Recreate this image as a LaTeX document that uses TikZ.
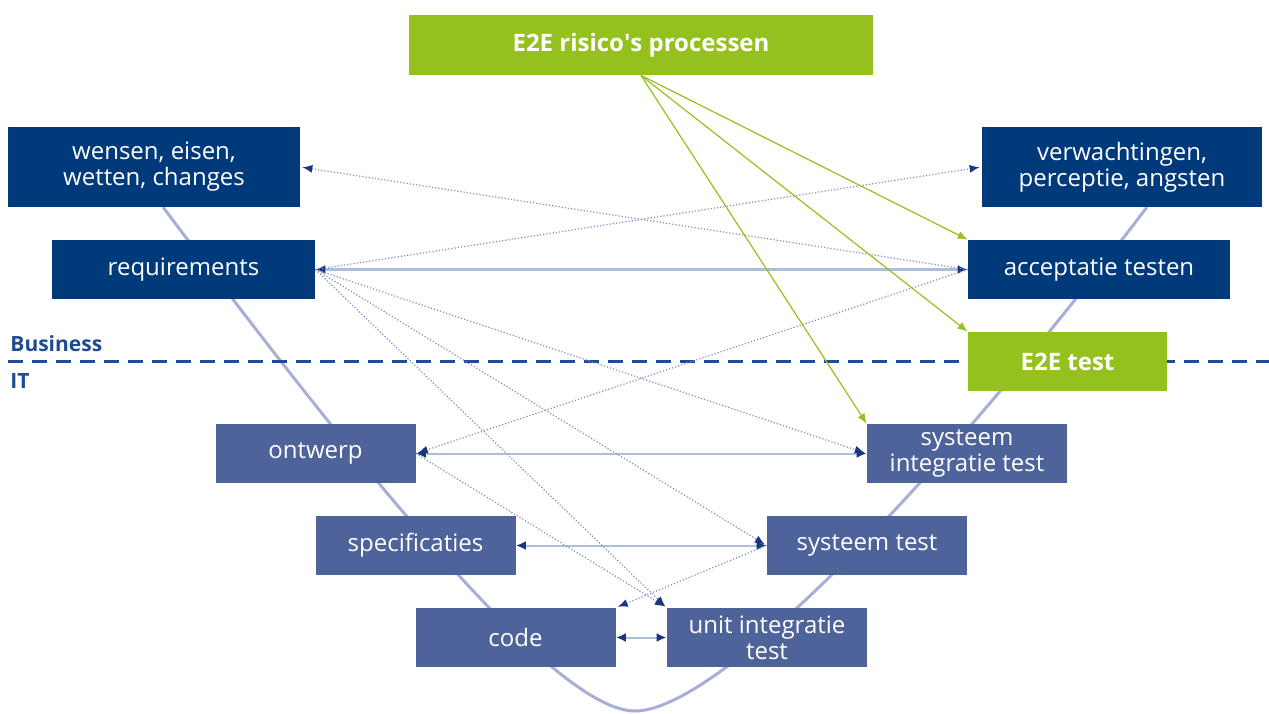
\documentclass[tikz,border=0pt]{standalone}
\usepackage{fontspec}
\setmainfont{Open Sans}
\usepackage{tikz}
\usetikzlibrary{arrows.meta,positioning}
\definecolor{darkbox}{RGB}{0,58,122}
\definecolor{midbox}{RGB}{79,99,155}
\definecolor{limebox}{RGB}{149,193,31}
\definecolor{vcurve}{RGB}{168,175,215}
\definecolor{traceblue}{RGB}{130,140,195}
\definecolor{pairblue}{RGB}{172,190,218}
\definecolor{tipblue}{RGB}{25,55,125}
\definecolor{lineblue}{RGB}{30,75,145}
\tikzset{stage/.style={
                       % The shape:
                       rectangle,inner sep=0pt,minimum height=29.5pt,
                       % The rest
                       text=white,align=center,
                       font=\fontsize{12}{13}\selectfont},
         business/.style={stage,fill=darkbox},
         itstage/.style={stage,fill=midbox,minimum width=100pt},
         e2e/.style={stage,fill=limebox,font=\bfseries\fontsize{12}{13}\selectfont},
         side/.style={anchor=base west,inner sep=0pt,text=lineblue,
                      font=\bfseries\fontsize{10.5}{12}\selectfont},
         pair/.style={draw=pairblue,line width=1pt,<->,
                      >={Latex[length=5pt,width=4.5pt,color=tipblue]}},
         trace/.style={draw=traceblue,densely dotted,line width=0.6pt,->,shorten >=1pt,
                       >={Latex[length=5pt,width=4pt,color=tipblue]}},
         risk/.style={draw=limebox,line width=0.6pt,->,
                      >={Latex[length=5pt,width=4pt]}}}
\begin{document}
\begin{tikzpicture}[x=0.5pt,y=-0.5pt]
  \useasboundingbox (0,0) rectangle (1269,713);
  % The V behind the boxes:
  \draw[vcurve,line width=1.5pt] (163,207) .. controls (388,507) and (560,711) .. (635,711)
                                 .. controls (715,711) and (925,500) .. (1147,207);
  % Business / IT border:
  \draw[lineblue,line width=1.5pt,dash pattern=on 7.5pt off 4.5pt] (8,361) -- (1269,361);
  \node (business) [side] at (10,351) {Business};
  \node (it) [side] at (10,388) {IT};
  % Top:
  \node (risico) [e2e,minimum width=232pt,minimum height=30pt] at (641,45) {E2E risico\textquotesingle s processen};
  % Business side:
  \node (wensen) [business,minimum width=146pt,minimum height=40pt] at (154,167) {wensen, eisen,\\wetten, changes};
  \node (req) [business,minimum width=131.5pt] at (183.5,269.5) {requirements};
  \node (verw) [business,minimum width=140pt,minimum height=40pt] at (1122,167) {verwachtingen,\\perceptie, angsten};
  \node (accept) [business,minimum width=131pt] at (1099,269.5) {acceptatie testen};
  \node (e2etest) [e2e,minimum width=99.5pt] at (1067.5,361.5) {E2E test};
  % IT side:
  \node (ontwerp) [itstage] at (315.5,453.5) {ontwerp};
  \node (sit) [itstage] at (967,453.5) {systeem\\integratie test};
  \node (spec) [itstage] at (415.5,545.5) {specificaties};
  \node (systest) [itstage] at (867,545.5) {systeem test};
  \node (code) [itstage] at (515.5,637.5) {code};
  \node (unit) [itstage] at (767,637.5) {unit integratie\\test};
  % Pairs:
  \draw[pair,line width=1.6pt] (req.east) -- (accept.west);
  \draw[pair] (ontwerp.east) -- (sit.west);
  \draw[pair] (spec.east) -- (systest.west);
  \draw[pair] (code.east) -- (unit.west);
  % Traces:
  \draw[trace] (accept.west) -- (wensen.east);
  \draw[trace] (req.east) -- (verw.west);
  \draw[trace] (req.east) -- (sit.west);
  \draw[trace] (req.east) -- (systest.west);
  \draw[trace] (req.east) -- (unit.north west);
  \draw[trace] (accept.west) -- (ontwerp.east);
  \draw[trace] (ontwerp.east) -- (unit.north west);
  \draw[trace] (systest.west) -- (code.north east);
  % Risks:
  \draw[risk] (risico.south) -- (accept.north west);
  \draw[risk] (risico.south) -- (e2etest.north west);
  \draw[risk] (risico.south) -- (sit.north west);
\end{tikzpicture}
\end{document}
